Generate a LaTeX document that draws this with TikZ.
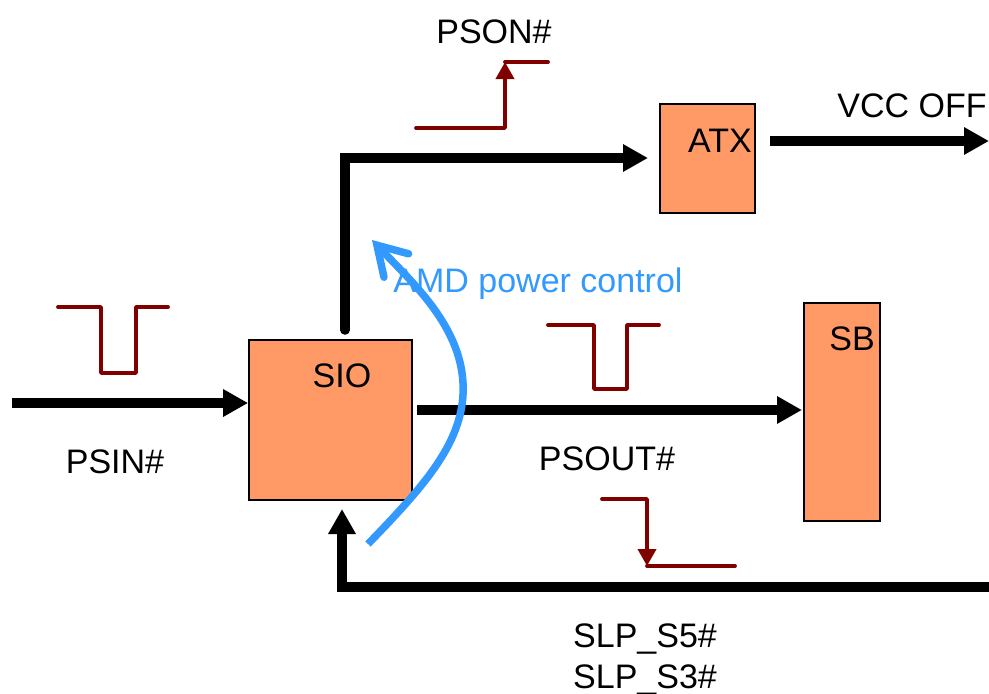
\documentclass[tikz,border=0pt]{standalone}
\usepackage{fontspec}
\setmainfont{Liberation Sans}
\usetikzlibrary{arrows.meta}
\definecolor{boxfill}{HTML}{FF9966}
\definecolor{wave}{HTML}{800000}
\definecolor{ctrl}{HTML}{3399FF}
\begin{document}
\begin{tikzpicture}[x=1pt,y=-1pt,
  blk/.style={draw=black,line width=1.8pt,fill=boxfill,inner sep=0pt},
  lbl/.style={anchor=base,inner sep=0pt,font=\fontsize{34}{40}\selectfont},
  bus/.style={line width=9.5pt,-{Triangle[length=25pt,width=26pt]}},
  wv/.style={draw=wave,line width=3.8pt,line cap=round,line join=round},
  wva/.style={wv,-{Triangle[length=17pt,width=18pt]}}
]
\useasboundingbox (0,0) rectangle (989,694);
% boxes
\node[blk,minimum width=163pt,minimum height=160pt] (sio) at (330.5,420) {};
\node[blk,minimum width=95pt,minimum height=109pt] (atx) at (707.5,158.5) {};
\node[blk,minimum width=76pt,minimum height=218pt] (sb) at (842,412) {};
% labels
\node[lbl] (tsio) at (342,387) {SIO};
\node[lbl] (tatx) at (720,152) {ATX};
\node[lbl] (tsb) at (852,350) {SB};
\node[lbl] (tpson) at (494,43) {PSON\#};
\node[lbl] (tvcc) at (912,117) {VCC OFF};
\node[lbl] (tpsin) at (115,473) {PSIN\#};
\node[lbl] (tpsout) at (607,470) {PSOUT\#};
\node[lbl] (ts5) at (645,647) {SLP\_S5\#};
\node[lbl] (ts3) at (645,688) {SLP\_S3\#};
\node[lbl,text=ctrl] (tamd) at (538,292) {AMD power control};
% coordinates
\coordinate (psinstart) at (12,403);
\coordinate (siotop) at (345,330);
\coordinate (corner1) at (345,158);
\coordinate (atxin) at (648,158);
\coordinate (atxout) at (770,141);
\coordinate (vccend) at (989,141);
\coordinate (psoutstart) at (417,410);
\coordinate (sbin) at (802,410);
\coordinate (slpstart) at (989,587);
\coordinate (slpcorner) at (342,587);
\coordinate (sioin) at (342,509);
% thick connectors
\draw[bus] (psinstart) -- (sio.west |- psinstart);
\draw[bus,line cap=round] (siotop) -- (corner1) -- (atxin);
\draw[line width=9.5pt] (corner1) -- ++(0,4);
\draw[bus] (atxout) -- (vccend);
\draw[bus] (psoutstart) -- (sbin);
\draw[bus] (slpstart) -- (slpcorner) -- (sioin);
% waveforms
\draw[wv] (58,307) -- (101,307) -- (101,373) -- (136,373) -- (136,307) -- (168,307);
\draw[wv] (548,325) -- (594,325) -- (594,389) -- (627,389) -- (627,325) -- (659,325);
\draw[wva] (416,128) -- (505,128) -- (505,62);
\draw[wv] (505,62) -- (548,62);
\draw[wva] (602,499) -- (647,499) -- (647,566);
\draw[wv] (647,566) -- (735,566);
% AMD power control curve
\draw[draw=ctrl,line width=7.5pt,line cap=butt,-{Straight Barb[length=28pt,width=34pt,line cap=round]}]
  (368,544) .. controls (425,485) and (466,440) .. (463,383)
  .. controls (460,325) and (412,282) .. (372,240);
\end{tikzpicture}
\end{document}
